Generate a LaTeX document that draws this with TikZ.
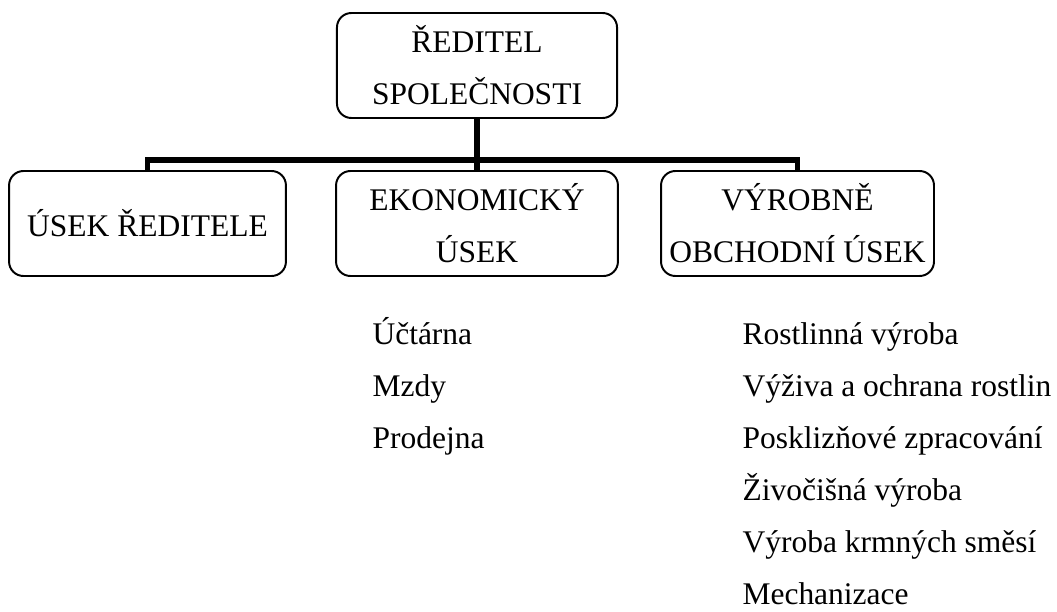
\documentclass[tikz,border=0pt]{standalone}
\usepackage{fontspec}
\setmainfont{Liberation Serif}
\usepackage{tikz}
\usetikzlibrary{positioning}
\tikzset{
  unitbox/.style={draw, rounded corners=5.5pt, line width=0.75pt, align=center,
    inner sep=0pt, minimum height=40pt, font=\fontsize{12}{19.8}\selectfont},
  busline/.style={line width=2.2pt},
  listitem/.style={anchor=base west, inner sep=0pt, font=\fontsize{12}{14}\selectfont}
}

\begin{document}
\begin{tikzpicture}[x=0.381pt,y=-0.381pt]
  \useasboundingbox (0,0) rectangle (1057,611);
  % boxes
  \node[unitbox, minimum width=106.7pt] (boss) at (477,65.5) {ŘEDITEL\\SPOLEČNOSTI};
  \node[unitbox, minimum width=105.5pt] (usek) at (147.5,223.5) {ÚSEK ŘEDITELE};
  \node[unitbox, minimum width=107.4pt] (eko) at (477,223.5) {EKONOMICKÝ\\ÚSEK};
  \node[unitbox, minimum width=104pt] (vyr) at (797.5,223.5) {VÝROBNĚ\\OBCHODNÍ ÚSEK};
  % lines
  \coordinate (bus) at (477,160);
  \draw[busline] (boss) -- (eko);
  \draw[busline] (usek.north) |- (bus) -| (vyr.north);
  % departments
  \foreach \t [count=\i] in {Účtárna,Mzdy,Prodejna}
    \node[listitem] (eko\i) at (372,{344+52*(\i-1)}) {\t};
  \foreach \t [count=\i] in {Rostlinná výroba,Výživa a ochrana rostlin,Posklizňové zpracování,Živočišná výroba,Výroba krmných směsí,Mechanizace}
    \node[listitem] (vyr\i) at (742,{344+52*(\i-1)}) {\t};
\end{tikzpicture}
\end{document}
